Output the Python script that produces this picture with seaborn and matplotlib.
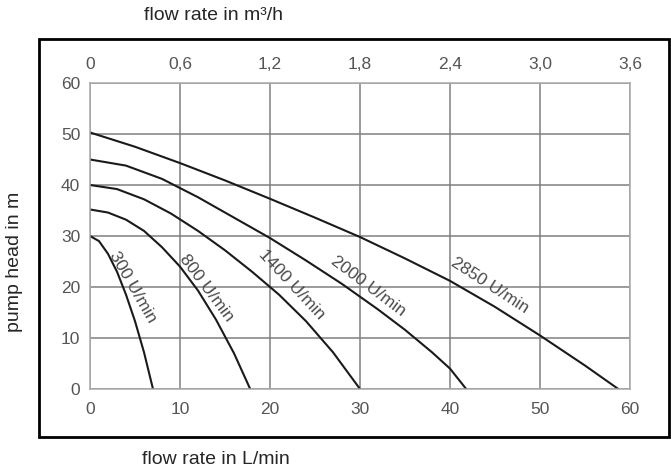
import matplotlib
matplotlib.use("Agg")
import matplotlib.pyplot as plt
import pandas as pd
import seaborn as sns
from matplotlib.patches import Rectangle

# pump curves: flow rate (L/min) vs pump head (m)
speeds = ["300 U/min", "800 U/min", "1400 U/min", "2000 U/min", "2850 U/min"]

q_300 = [0, 1, 2, 3, 4, 5, 6, 7]
h_300 = [30, 29, 26.5, 23, 18.5, 13.3, 7.2, 0]

q_800 = [0, 2, 4, 6, 8, 10, 12, 14, 16, 17.8]
h_800 = [35.2, 34.6, 33.2, 31, 27.8, 24, 19.3, 13.6, 7, 0]

q_1400 = [0, 3, 6, 9, 12, 15, 18, 21, 24, 27, 30]
h_1400 = [40, 39.2, 37.2, 34.4, 31, 27.2, 23, 18.5, 13.3, 7.2, 0]

q_2000 = [0, 4, 8, 12, 16, 20, 24, 28, 32, 35, 38, 40, 41.8]
h_2000 = [45, 43.8, 41.2, 37.6, 33.6, 29.6, 25.2, 20.6, 15.6, 11.6, 7.2, 4, 0]

q_2850 = [0, 5, 10, 15, 20, 25, 30, 35, 40, 45, 50, 55, 58.7]
h_2850 = [50.3, 47.5, 44.3, 40.9, 37.3, 33.6, 29.8, 25.6, 21.2, 16.1, 10.5,
          4.6, 0]

# label anchor (flow, head) and angle for each curve
label_q = [4.8, 12.9, 22.4, 30.9, 44.4]
label_h = [19.9, 19.9, 20.4, 20.1, 20.3]
label_rot = [-60, -53, -47, -37, -33]

x_ticks = [0, 10, 20, 30, 40, 50, 60]
y_ticks = [0, 10, 20, 30, 40, 50, 60]
top_ticks = [0, 0.6, 1.2, 1.8, 2.4, 3.0, 3.6]
top_labels = ["0", "0,6", "1,2", "1,8", "2,4", "3,0", "3,6"]

curves = list(zip([q_300, q_800, q_1400, q_2000, q_2850],
                  [h_300, h_800, h_1400, h_2000, h_2850]))
frames = []
for name, (q, h) in zip(speeds, curves):
    frames.append(pd.DataFrame({"flow": q, "head": h, "speed": name}))
df = pd.concat(frames, ignore_index=True)

sns.set_style("white")
plt.rcParams["font.family"] = ["Liberation Sans", "DejaVu Sans"]

fig = plt.figure(figsize=(6.71, 4.73), dpi=100)
ax = fig.add_axes([90 / 671, 84 / 473, 540 / 671, 306 / 473])

sns.lineplot(data=df, x="flow", y="head", units="speed", estimator=None,
             sort=False, color="#1a1a1a", linewidth=1.5, ax=ax)

ax.set_xlim(0, 60)
ax.set_ylim(0, 60)
ax.set_xticks(x_ticks)
ax.set_yticks(y_ticks)
ax.grid(True, color="#808080", linewidth=1.1)
ax.set_axisbelow(True)
for sp in ax.spines.values():
    sp.set_color("#aaaaaa")
    sp.set_linewidth(1.1)
ax.tick_params(axis="both", length=0, labelsize=12.5, labelcolor="#555555")
ax.tick_params(axis="x", pad=9)
ax.tick_params(axis="y", pad=7)
ax.set_xlabel("")
ax.set_ylabel("")

top = ax.secondary_xaxis("top", functions=(lambda q: q * 0.06,
                                           lambda m: m / 0.06))
top.set_xticks(top_ticks)
top.set_xticklabels(top_labels)
top.tick_params(length=0, labelsize=12.5, labelcolor="#555555", pad=8)
top.spines["top"].set_visible(False)

for name, q, h, r in zip(speeds, label_q, label_h, label_rot):
    ax.text(q, h, name, rotation=r, rotation_mode="anchor",
            ha="center", va="center", fontsize=12.5, color="#4a4a4a")

fig.text(214 / 671, 1 - 15 / 473, "flow rate in m³/h",
         ha="center", va="center", fontsize=14)
fig.text(216 / 671, 1 - 459 / 473, "flow rate in L/min",
         ha="center", va="center", fontsize=14)
fig.text(15 / 671, 1 - 262 / 473, "pump head in m", rotation=90,
         ha="center", va="center", fontsize=14)

fig.patches.append(Rectangle((39 / 671, 36 / 473), 630 / 671, 398 / 473,
                             transform=fig.transFigure, fill=False,
                             edgecolor="black", linewidth=2))

fig.savefig("out.png", dpi=100)
